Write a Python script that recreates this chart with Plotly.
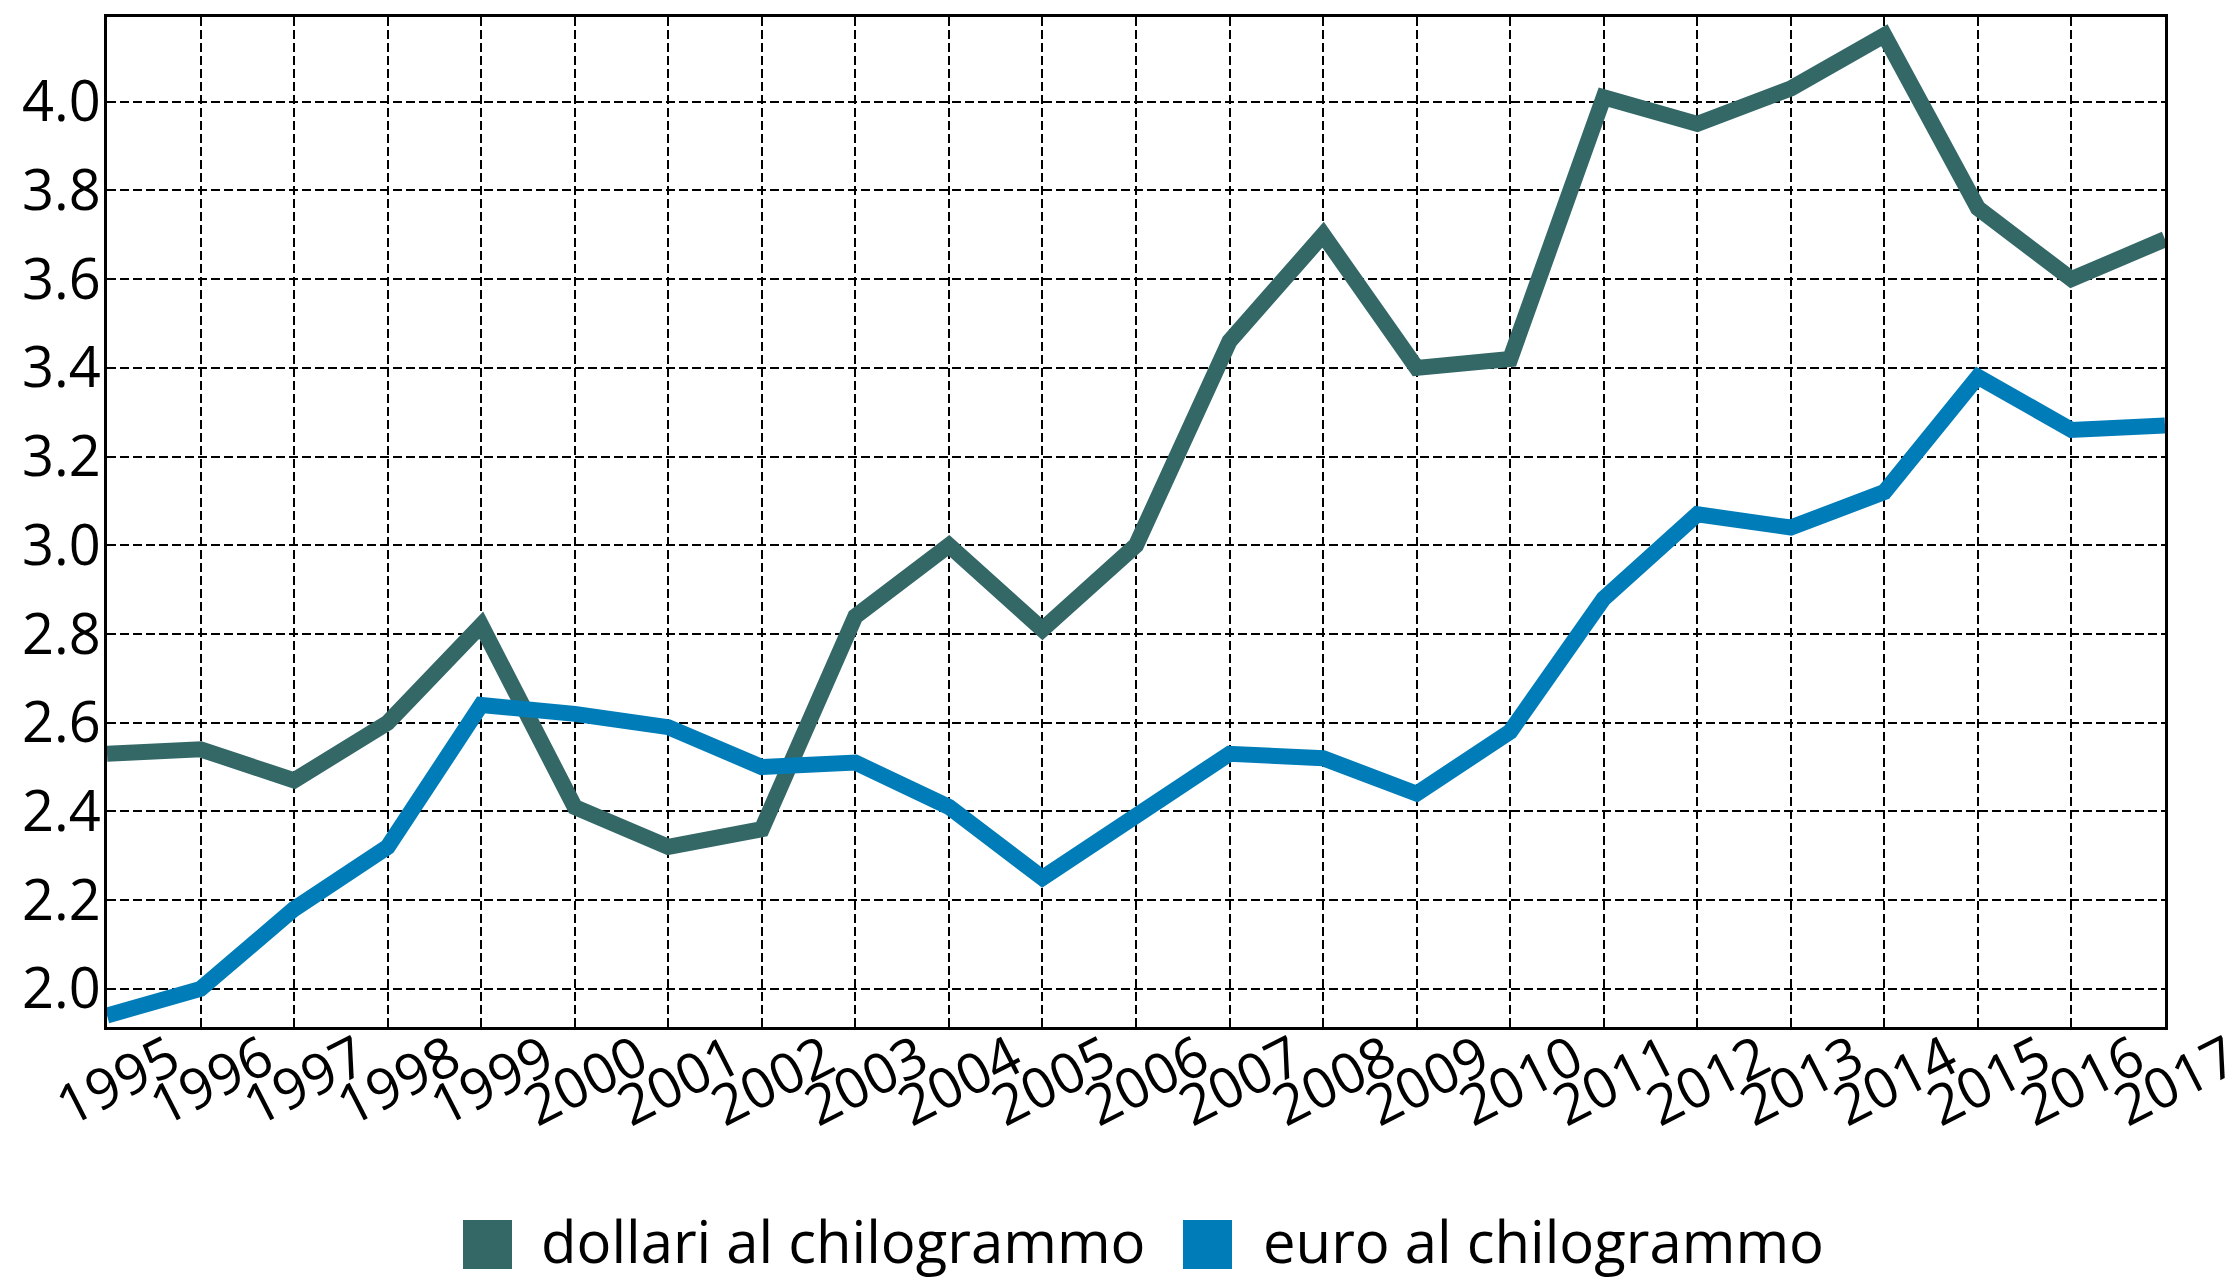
import plotly.graph_objects as go

years = list(range(1995, 2018))
dollari = [2.53, 2.54, 2.47, 2.60, 2.82, 2.41, 2.32, 2.36, 2.84, 3.00, 2.81, 3.00,
           3.46, 3.70, 3.40, 3.42, 4.01, 3.95, 4.03, 4.15, 3.76, 3.60, 3.69]
euro = [1.94, 2.00, 2.18, 2.32, 2.64, 2.62, 2.59, 2.50, 2.51, 2.41, 2.25, 2.39,
        2.53, 2.52, 2.44, 2.58, 2.88, 3.07, 3.04, 3.12, 3.38, 3.26, 3.27]
series_names = ["dollari al chilogrammo", "euro al chilogrammo"]
colors = ["#336867", "#007DB8"]
y_ticks = [2.0, 2.2, 2.4, 2.6, 2.8, 3.0, 3.2, 3.4, 3.6, 3.8, 4.0]

# page body has an 8px margin: compensate so the figure lands where the reference is
OFF = 8
W, H = 2237 - OFF, 1279 - OFF
L, T = 107 - OFF, 17 - OFF
R = W - (2165 - OFF)
B = H - (1027 - OFF)
PW, PH = W - L - R, H - T - B

FONT = "Open Sans"

fig = go.Figure()
for name, vals, col in zip(series_names, [dollari, euro], colors):
    fig.add_trace(go.Scatter(x=years, y=vals, mode="lines", name=name,
                             line=dict(color=col, width=16), showlegend=False))

# manual legend (square swatches + text), positions given in page pixels
def px_x(p):
    return (p - OFF - L) / PW

def px_y(p):
    return (H - B - (p - OFF)) / PH

legend_items = [(463, 512, 539), (1183, 1232, 1261)]
for (x0, x1, tx), name, col in zip(legend_items, series_names, colors):
    fig.add_shape(type="rect", xref="paper", yref="paper",
                  x0=px_x(x0), x1=px_x(x1), y0=px_y(1269), y1=px_y(1220),
                  fillcolor=col, line=dict(width=0))
    fig.add_annotation(xref="paper", yref="paper", x=px_x(tx), y=px_y(1240),
                       xanchor="left", yanchor="middle", text=name, showarrow=False,
                       font=dict(family=FONT, size=58, color="black"))

fig.update_layout(
    width=W, height=H,
    margin=dict(l=L, r=R, t=T, b=B, pad=0, autoexpand=False),
    paper_bgcolor="white", plot_bgcolor="white",
    font=dict(family=FONT, size=56, color="black"),
    showlegend=False,
)
fig.update_xaxes(
    range=[1995, 2017], tickmode="array", tickvals=years,
    ticktext=[str(y) for y in years], tickangle=-27,
    ticklabelshift=64, ticklabelstandoff=-25, ticklabeloverflow="allow",
    automargin=False,
    showgrid=True, gridcolor="black", gridwidth=2, griddash="9px,4px",
    showline=True, linecolor="black", linewidth=3, mirror=True,
    ticks="", zeroline=False, tickfont=dict(family=FONT, size=56),
)
fig.update_yaxes(
    range=[1.914, 4.191], tickmode="array", tickvals=y_ticks,
    ticktext=[f"{v:.1f}" for v in y_ticks], automargin=False,
    ticklabelstandoff=-8,
    showgrid=True, gridcolor="black", gridwidth=2, griddash="9px,4px",
    showline=True, linecolor="black", linewidth=3, mirror=True,
    ticks="", zeroline=False, tickfont=dict(family=FONT, size=56),
)

fig.write_html("out.html")
